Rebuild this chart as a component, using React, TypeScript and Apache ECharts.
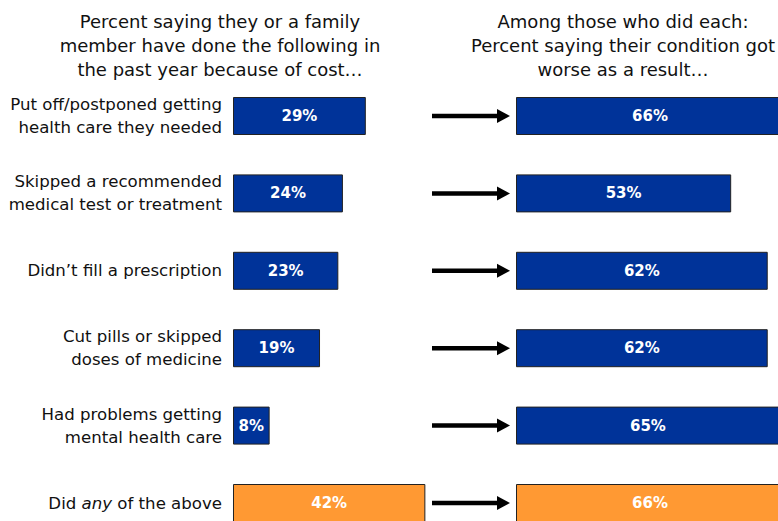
import React, { useEffect, useRef } from "react";
import * as echarts from "echarts";

const categories = [
  "Put off/postponed getting\nhealth care they needed",
  "Skipped a recommended\nmedical test or treatment",
  "Didn\u2019t fill a prescription",
  "Cut pills or skipped\ndoses of medicine",
  "Had problems getting\nmental health care",
  "Did {i|any} of the above",
];
const didItPct = [29, 24, 23, 19, 8, 42];
const worsePct = [66, 53, 62, 62, 65, 66];
const highlightIndex = 5;

const leftTitle = "Percent saying they or a family\nmember have done the following in\nthe past year because of cost\u2026";
const rightTitle = "Among those who did each:\nPercent saying their condition got\nworse as a result\u2026";

const BLUE = "#003399";
const ORANGE = "#FF9933";
const FONT = "'DejaVu Sans', Verdana, sans-serif";

export default function App() {
  const ref = useRef<HTMLDivElement>(null);
  useEffect(() => {
    if (!ref.current) return;
    const chart = echarts.init(ref.current, undefined, { renderer: "svg" });
    const colorFor = (i: number) => (i === highlightIndex ? ORANGE : BLUE);
    const barLabel = {
      show: true,
      position: "inside",
      color: "#ffffff",
      fontWeight: "bold",
      fontSize: 15,
      fontFamily: FONT,
      formatter: "{c}%",
    };
    const titleStyle = {
      fontSize: 18,
      fontWeight: "normal",
      color: "#111",
      lineHeight: 24,
      fontFamily: FONT,
    };
    chart.setOption({
      animation: false,
      backgroundColor: "#ffffff",
      textStyle: { fontFamily: FONT },
      title: [
        { text: leftTitle, left: 220, top: 9, padding: 0, textAlign: "center", textStyle: titleStyle },
        { text: rightTitle, left: 623, top: 9, padding: 0, textAlign: "center", textStyle: titleStyle },
      ],
      grid: [
        { left: 233, top: 77.3, width: 229, height: 464.4 },
        { left: 516, top: 77.3, width: 406, height: 464.4 },
      ],
      xAxis: [
        { type: "value", gridIndex: 0, min: 0, max: 50, show: false },
        { type: "value", gridIndex: 1, min: 0, max: 100, show: false },
      ],
      yAxis: [
        {
          type: "category",
          gridIndex: 0,
          data: categories,
          inverse: true,
          axisLine: { show: false },
          axisTick: { show: false },
          axisLabel: {
            margin: 11,
            fontSize: 16.6,
            color: "#111",
            lineHeight: 23,
            fontFamily: FONT,
            align: "right",
            rich: {
              i: { fontStyle: "italic", fontSize: 16.6, color: "#111", fontFamily: FONT },
            },
          },
        },
        {
          type: "category",
          gridIndex: 1,
          data: categories,
          inverse: true,
          show: false,
        },
      ],
      series: [
        {
          type: "bar",
          xAxisIndex: 0,
          yAxisIndex: 0,
          barWidth: 38,
          data: didItPct.map((v, i) => ({
            value: v,
            itemStyle: { color: colorFor(i), borderColor: "#222", borderWidth: 1 },
          })),
          label: barLabel,
        },
        {
          type: "bar",
          xAxisIndex: 1,
          yAxisIndex: 1,
          barWidth: 38,
          data: worsePct.map((v, i) => ({
            value: v,
            itemStyle: { color: colorFor(i), borderColor: "#222", borderWidth: 1 },
          })),
          label: barLabel,
        },
        {
          type: "custom",
          xAxisIndex: 1,
          yAxisIndex: 1,
          data: worsePct.map((_, i) => [0, i]),
          silent: true,
          renderItem: (params: any, api: any) => {
            const p = api.coord([0, api.value(1)]);
            const tip = p[0] - 6;
            const start = p[0] - 84;
            const y = p[1];
            return {
              type: "group",
              children: [
                {
                  type: "line",
                  shape: { x1: start, y1: y, x2: tip - 10, y2: y },
                  style: { stroke: "#000", lineWidth: 4.5 },
                },
                {
                  type: "polygon",
                  shape: { points: [[tip - 13, y - 7], [tip, y], [tip - 13, y + 7]] },
                  style: { fill: "#000" },
                },
              ],
            };
          },
        },
      ],
    });
    return () => chart.dispose();
  }, []);
  return (
    <div style={{ position: "fixed", left: 0, top: 0, width: 778, height: 521, overflow: "hidden", background: "#fff" }}>
      <div ref={ref} style={{ position: "absolute", left: 0, top: 0, width: 940, height: 560 }} />
    </div>
  );
}
